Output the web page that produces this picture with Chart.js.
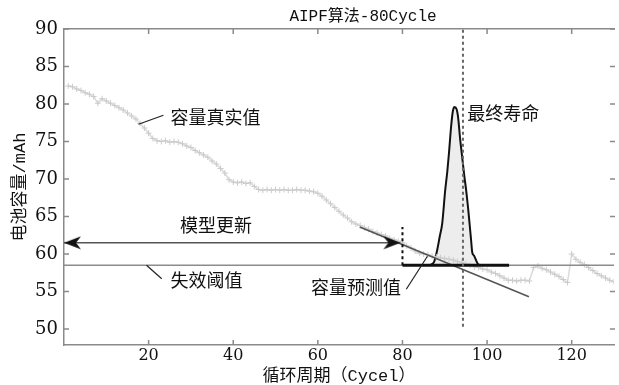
<!DOCTYPE html>
<html><head><meta charset="utf-8">
<script src="https://cdn.jsdelivr.net/npm/chart.js@4.4.0/dist/chart.umd.min.js"></script>
<style>html,body{margin:0;padding:0;background:#fff}#wrap{width:619px;height:385px}</style>
</head><body><div id="wrap"><canvas id="c" width="619" height="385"></canvas></div>
<script>
// ---- data ----
const cycles = [1,2,3,4,5,6,7,8,9,10,11,12,13,14,15,16,17,18,19,20,21,22,23,24,25,26,27,28,29,30,
31,32,33,34,35,36,37,38,39,40,41,42,43,44,45,46,47,48,49,50,51,52,53,54,55,56,57,58,59,60,
61,62,63,64,65,66,67,68,69,70,71,72,73,74,75,76,77,78,79,80,81,82,83,84,85,86,87,88,89,90,
91,92,93,94,95,96,97,98,99,100,101,102,103,104,105,106,107,108,109,110,111,112,113,114,115,116,117,118,119,120,
121,122,123,124,125,126,127,128,129,130];
const trueCapacity = [82.4,82.3,82.0,81.8,81.5,81.3,81.0,80.1,80.7,80.4,80.1,79.8,79.5,79.2,78.8,78.4,78.0,77.4,76.8,76.1,
75.4,75.1,75.0,75.1,74.9,75.0,74.9,74.7,74.4,74.2,73.8,73.5,73.2,72.9,72.4,72.0,71.4,70.8,69.9,69.6,
69.5,69.6,69.4,69.5,69.0,68.6,68.5,68.6,68.5,68.6,68.5,68.6,68.5,68.5,68.6,68.5,68.5,68.4,68.3,68.1,
67.7,67.2,66.7,66.2,65.7,65.2,64.8,64.3,64.0,63.8,63.5,63.3,63.0,62.8,62.6,62.4,62.1,61.9,61.7,61.5,
61.1,60.8,60.4,60.1,60.0,59.9,59.7,59.6,59.5,59.4,59.3,59.2,59.0,58.9,58.7,58.5,58.3,58.2,58.0,57.9,
57.6,57.4,57.1,56.8,56.5,56.5,56.4,56.5,56.5,56.4,58.2,58.4,58.1,57.9,57.6,57.3,57.0,56.6,56.2,60.0,
59.3,58.9,58.6,58.2,57.8,57.4,57.1,56.8,56.5,56.3];

const failureThreshold = 58.5;
const thresholdCycles = [0, 130];

const predictedCycles = [69.9, 109.9];
const predictedCapacity = [63.6, 54.3];

const pdfCycles = [86.5,87.5,88.2,88.8,89.4,90.1,90.6,91.0,91.5,91.9,92.3,92.8,93.2,93.6,94.1,94.6,95.1,95.5,95.9,96.2,96.5,96.9,97.3,97.8,98.5];
const pdfCurve  = [58.5,59.0,60.5,62.3,64.1,68.5,71.0,73.5,77.0,79.0,79.6,79.3,78.0,75.5,73.0,70.5,68.3,66.2,63.8,62.0,60.2,59.8,59.3,58.7,58.5];
const pdfBaseCycles = [80, 105.2];

const predictionStartCycle = 80;
const predictionStartCaps = [58.5, 63.6];
const endOfLifeCycle = 94.3;
const endOfLifeCaps = [50.3, 90];

const updateArrowCycles = [0, 79.5];
const updateArrowCap = 61.5;

const leaderTrueCycles = [17.6, 23.5], leaderTrueCaps = [77.3, 78.5];
const leaderThrCycles = [19.5, 23.1], leaderThrCaps = [58.5, 56.7];
const leaderPredCycles = [80.9, 85.9], leaderPredCaps = [55.3, 59.7];

const labelTexts  = ['容量真实值', '模型更新', '失效阈值', '容量预测值', '最终寿命'];
const labelCycles = [25.2, 35.9, 25.2, 58.4, 95.3];
const labelCaps   = [78.3, 63.9, 56.5, 55.6, 78.8];
const labelAlign  = ['left', 'center', 'left', 'left', 'left'];

const xTicks = [20, 40, 60, 80, 100, 120];
const yTicks = [50, 55, 60, 65, 70, 75, 80, 85, 90];

const chartTitle = 'AIPF算法-80Cycle';
const xTitle = '循环周期（Cycel）';
const yTitle = '电池容量/mAh';

// ---- helpers ----
const pts = (xs, ys) => xs.map((x, i) => ({x, y: Array.isArray(ys) ? ys[i] : ys}));
const vpts = (x, ys) => ys.map(y => ({x, y}));

function arrowHead(dir) {
  const c = document.createElement('canvas');
  c.width = 36; c.height = 14;
  const g = c.getContext('2d');
  g.fillStyle = '#111';
  g.beginPath();
  if (dir > 0) { g.moveTo(18, 7); g.lineTo(1, 0.5); g.lineTo(6, 7); g.lineTo(1, 13.5); }
  else { g.moveTo(18, 7); g.lineTo(35, 0.5); g.lineTo(30, 7); g.lineTo(35, 13.5); }
  g.closePath(); g.fill();
  return c;
}

const CJK = '"Noto Sans CJK SC"';
const MONO = '"Liberation Mono", "Noto Sans CJK SC"';
const AXIS = '#8a8a8a';

const inwardTicks = {
  id: 'inwardTicks',
  afterDraw(chart) {
    const {ctx, chartArea: a, scales: {x, y}} = chart;
    ctx.save();
    ctx.strokeStyle = AXIS; ctx.lineWidth = 1.5;
    ctx.beginPath();
    yTicks.forEach(v => { const py = y.getPixelForValue(v);
      ctx.moveTo(a.left, py); ctx.lineTo(a.left + 5, py);
      ctx.moveTo(a.right + 1, py); ctx.lineTo(a.right - 4, py); });
    xTicks.forEach(v => { const px = x.getPixelForValue(v);
      ctx.moveTo(px, a.top); ctx.lineTo(px, a.top + 5);
      ctx.moveTo(px, a.bottom); ctx.lineTo(px, a.bottom - 5); });
    ctx.stroke();
    ctx.restore();
  }
};

const textLabels = {
  id: 'textLabels',
  afterDatasetsDraw(chart) {
    const {ctx, scales: {x, y}} = chart;
    ctx.save();
    ctx.fillStyle = '#111';
    ctx.textBaseline = 'middle';
    ctx.font = '18px ' + CJK;
    labelTexts.forEach((t, i) => {
      ctx.textAlign = labelAlign[i];
      ctx.fillText(t, x.getPixelForValue(labelCycles[i]), y.getPixelForValue(labelCaps[i]));
    });
    ctx.font = '16px ' + MONO;
    ctx.textAlign = 'center';
    ctx.fillText(chartTitle, 363, 17);
    ctx.restore();
  }
};

const seg = (data, color, width, order, extra) => Object.assign({
  data, borderColor: color, borderWidth: width, pointRadius: 0, fill: false, order, clip: false
}, extra || {});

new Chart(document.getElementById('c'), {
  type: 'line',
  data: {
    datasets: [
      { data: pts(pdfCycles, pdfCurve), borderColor: '#111', borderWidth: 2, pointRadius: 0,
        backgroundColor: '#ededed', fill: {value: failureThreshold}, cubicInterpolationMode: 'monotone', order: 10 },
      { data: pts(cycles, trueCapacity), borderColor: '#dadada', borderWidth: 1.5, pointStyle: 'cross',
        pointRadius: 3, pointBorderColor: '#cbcbcb', pointBorderWidth: 1, fill: false, order: 9 },
      seg(pts(thresholdCycles, failureThreshold), '#8c8c8c', 1.5, 8),
      seg(pts(predictedCycles, predictedCapacity), '#555', 1.5, 7),
      seg(pts(pdfBaseCycles, failureThreshold), '#111', 3, 6),
      seg(vpts(predictionStartCycle, predictionStartCaps), '#111', 2, 5, {borderDash: [3, 3]}),
      seg(vpts(endOfLifeCycle, endOfLifeCaps), '#666', 2, 5, {borderDash: [3, 3]}),
      seg(pts(updateArrowCycles, updateArrowCap), '#555', 1.5, 4,
        {pointRadius: 3, pointStyle: [arrowHead(-1), arrowHead(1)], pointBorderWidth: 0}),
      seg(pts(leaderTrueCycles, leaderTrueCaps), '#222', 1.2, 3),
      seg(pts(leaderThrCycles, leaderThrCaps), '#222', 1.2, 3),
      seg(pts(leaderPredCycles, leaderPredCaps), '#222', 1.2, 3)
    ]
  },
  options: {
    responsive: false, animation: false, events: [],
    layout: {padding: {right: 1}},
    plugins: {legend: {display: false}, tooltip: {enabled: false}},
    scales: {
      x: {
        type: 'linear', position: 'bottom', min: 0, max: 130,
        afterBuildTicks: s => { s.ticks = xTicks.map(v => ({value: v})); },
        afterFit: s => { s.height = 40; },
        grid: {display: false, drawTicks: false},
        border: {color: AXIS, width: 1.5},
        ticks: {color: '#111', font: {family: 'DejaVu Serif', size: 16}, padding: 1, maxRotation: 0},
        title: {display: true, text: xTitle, color: '#111', font: {family: MONO, size: 17}, padding: {top: 0, bottom: -2}}
      },
      xTop: {
        type: 'linear', position: 'top', min: 0, max: 130,
        afterFit: s => { s.height = 29; },
        grid: {display: false, drawTicks: false},
        border: {color: AXIS, width: 1.5},
        ticks: {display: false}
      },
      y: {
        type: 'linear', position: 'left', min: 47.87, max: 90,
        afterBuildTicks: s => { s.ticks = yTicks.map(v => ({value: v})); },
        afterFit: s => { s.width = 64; },
        grid: {display: false, drawTicks: false},
        border: {color: AXIS, width: 1.5},
        ticks: {color: '#111', font: {family: 'DejaVu Serif', size: 18}, padding: 6},
        title: {display: true, text: yTitle, color: '#111', font: {family: MONO, size: 17}, padding: {top: 10, bottom: 0}}
      }
    }
  },
  plugins: [inwardTicks, textLabels]
});
</script></body></html>
